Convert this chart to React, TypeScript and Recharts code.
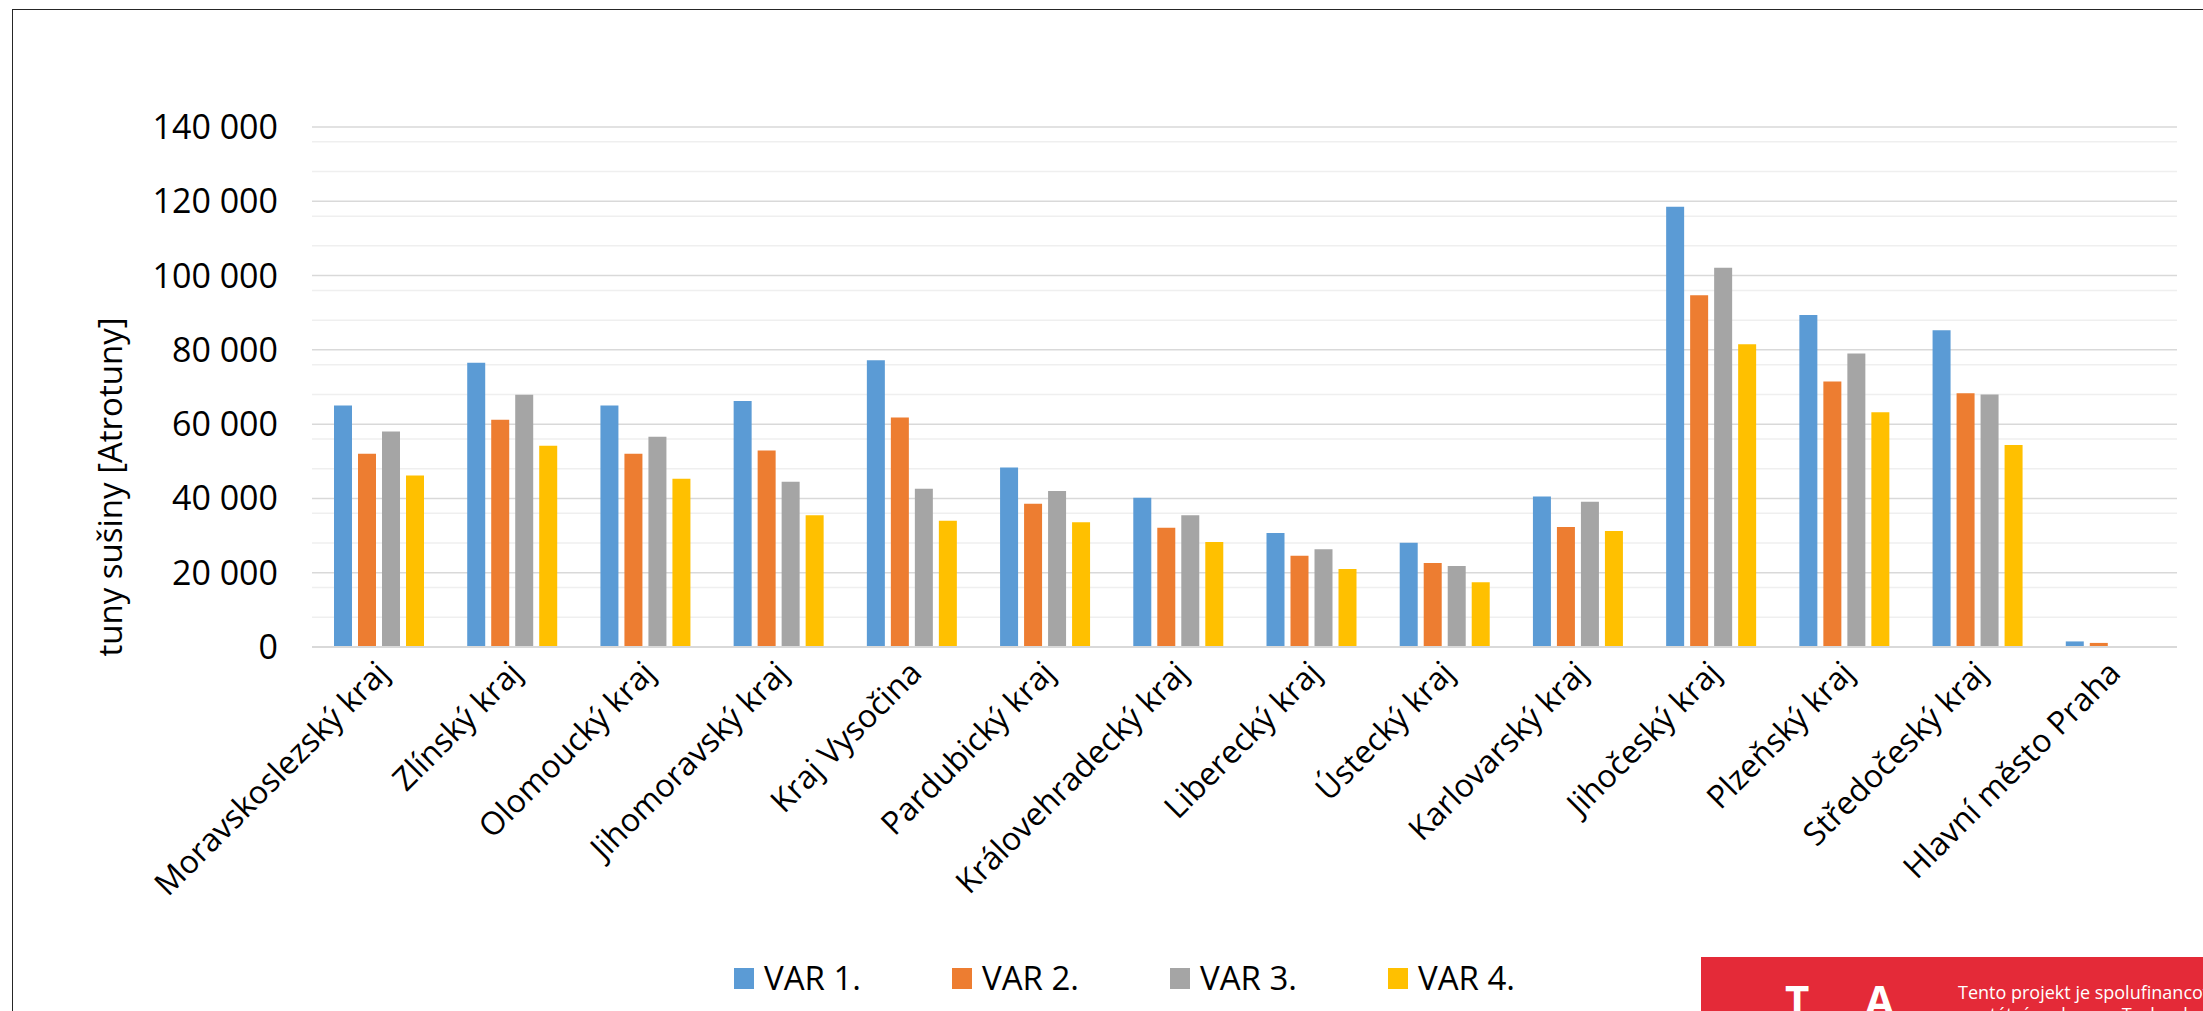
import React from 'react';
import { BarChart, Bar, XAxis, YAxis, CartesianGrid, Legend, Label } from 'recharts';

const regions = [
  'Moravskoslezský kraj',
  'Zlínský kraj',
  'Olomoucký kraj',
  'Jihomoravský kraj',
  'Kraj Vysočina',
  'Pardubický kraj',
  'Královehradecký kraj',
  'Liberecký kraj',
  'Ústecký kraj',
  'Karlovarský kraj',
  'Jihočeský kraj',
  'Plzeňský kraj',
  'Středočeský kraj',
  'Hlavní město Praha'
];

const var1 = [65000, 76500, 65000, 66200, 77200, 48300, 40200, 30700, 28100, 40500, 118500, 89400, 85300, 1500];
const var2 = [52000, 61200, 52000, 52900, 61800, 38600, 32100, 24600, 22600, 32300, 94700, 71500, 68300, 1100];
const var3 = [58000, 67900, 56600, 44500, 42600, 42000, 35500, 26300, 21800, 39100, 102100, 79000, 68000, 150];
const var4 = [46200, 54200, 45300, 35500, 34000, 33600, 28300, 21000, 17400, 31200, 81500, 63200, 54400, 100];

const majorTicks = [0, 20000, 40000, 60000, 80000, 100000, 120000, 140000];
const minorTicks = [
  4000, 8000, 12000, 16000, 24000, 28000, 32000, 36000, 44000, 48000, 52000, 56000,
  64000, 68000, 72000, 76000, 84000, 88000, 92000, 96000, 104000, 108000, 112000,
  116000, 124000, 128000, 132000, 136000
];

const seriesNames = ['VAR 1.', 'VAR 2.', 'VAR 3.', 'VAR 4.'];
const seriesColors = ['#5B9BD5', '#ED7D31', '#A5A5A5', '#FFC000'];

const data = regions.map((name, i) => ({
  name,
  v1: var1[i],
  v2: var2[i],
  v3: var3[i],
  v4: var4[i]
}));

const FONT = '"Open Sans", "Noto Sans", sans-serif';

const formatThousands = (v: number) => String(v).replace(/\B(?=(\d{3})+(?!\d))/g, ' ');

const CategoryTick = (props: any) => {
  const { x, y, payload } = props;
  const tx = x + 12;
  const ty = y + 20;
  return (
    <text
      x={tx}
      y={ty}
      transform={`rotate(-45 ${tx} ${ty})`}
      textAnchor="end"
      fontSize={32}
      fontFamily={FONT}
      fill="#000"
    >
      {payload.value}
    </text>
  );
};

const LegendContent = (props: any) => {
  const items = props.payload || [];
  return (
    <div style={{ display: 'flex', fontFamily: FONT, fontSize: 33, color: '#000' }}>
      {items.map((it: any) => (
        <div key={it.value} style={{ display: 'flex', alignItems: 'center', width: 218, height: 40 }}>
          <div style={{ width: 20, height: 21, background: it.color, marginRight: 10 }} />
          <span style={{ lineHeight: '40px' }}>{it.value}</span>
        </div>
      ))}
    </div>
  );
};

export default function App() {
  return (
    <div
      style={{
        position: 'absolute',
        left: 0,
        top: 0,
        width: 2203,
        height: 1011,
        overflow: 'hidden',
        background: '#fff'
      }}
    >
      <div
        style={{
          position: 'absolute',
          left: 12,
          top: 9,
          width: 2400,
          height: 1200,
          border: '1.5px solid #262626',
          boxSizing: 'border-box'
        }}
      />
      <div style={{ position: 'absolute', left: 0, top: 0 }}>
        <BarChart
          width={2203}
          height={1011}
          data={data}
          margin={{ top: 127, right: 26, bottom: 0, left: 0 }}
          barSize={18}
          barGap={6}
        >
          <CartesianGrid
            yAxisId="major"
            vertical={false}
            horizontalValues={minorTicks}
            stroke="#efefef"
            strokeWidth={1.5}
          />
          <CartesianGrid yAxisId="major" vertical={false} stroke="#d9d9d9" strokeWidth={1.5} />
          <XAxis
            dataKey="name"
            interval={0}
            height={364}
            tickLine={false}
            axisLine={{ stroke: '#d9d9d9', strokeWidth: 2 }}
            tick={<CategoryTick />}
          />
          <YAxis
            yAxisId="major"
            domain={[0, 140000]}
            ticks={majorTicks}
            width={312}
            axisLine={false}
            tickLine={false}
            tickSize={0}
            tickMargin={34}
            tickFormatter={formatThousands}
            tick={{ fontSize: 34, fontFamily: FONT, fill: '#000' }}
          >
            <Label
              content={() => (
                <text
                  x={109}
                  y={487}
                  transform="rotate(-90 109 487)"
                  textAnchor="middle"
                  dominantBaseline="central"
                  fontSize={33}
                  fontFamily={FONT}
                  fill="#000"
                >
                  tuny sušiny [Atrotuny]
                </text>
              )}
            />
          </YAxis>
          <Legend
            layout="horizontal"
            verticalAlign="middle"
            align="center"
            content={<LegendContent />}
            wrapperStyle={{ position: 'absolute', left: 734, top: 958, width: 900 }}
          />
          {['v1', 'v2', 'v3', 'v4'].map((key, i) => (
            <Bar
              key={key}
              yAxisId="major"
              dataKey={key}
              name={seriesNames[i]}
              fill={seriesColors[i]}
              isAnimationActive={false}
            />
          ))}
        </BarChart>
      </div>
      <div
        style={{
          position: 'absolute',
          left: 1701,
          top: 957,
          width: 502,
          height: 60,
          background: '#E42A38',
          color: '#fff',
          fontFamily: FONT
        }}
      >
        <div style={{ position: 'absolute', left: 84, top: 22, fontSize: 42, fontWeight: 700, lineHeight: '42px' }}>T</div>
        <div style={{ position: 'absolute', left: 164, top: 22, fontSize: 42, fontWeight: 700, lineHeight: '42px' }}>A</div>
        <div style={{ position: 'absolute', left: 257, top: 24, fontSize: 18, lineHeight: '22px', whiteSpace: 'nowrap' }}>
          Tento projekt je spolufinancován
          <br />
          se státní podporou Technologické agentury ČR
        </div>
      </div>
    </div>
  );
}
